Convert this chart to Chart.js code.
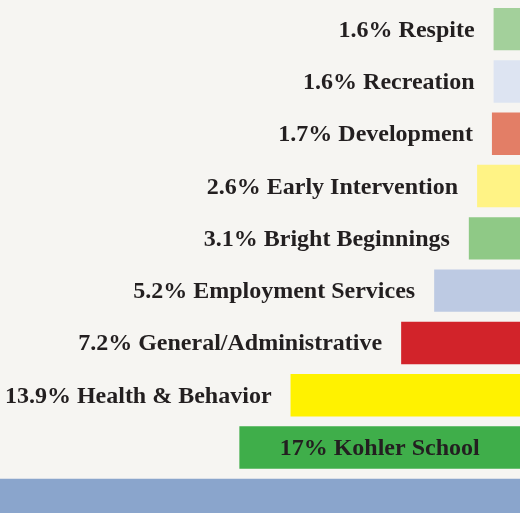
<!DOCTYPE html>
<html>
<head>
<meta charset="utf-8">
<script src="https://cdn.jsdelivr.net/npm/chart.js@4"></script>
<style>
  html, body { margin: 0; padding: 0; background: #f6f5f2; overflow: hidden; }
  #wrap { width: 520px; height: 513px; overflow: hidden; }
  #box { width: 520px; height: 526px; }
</style>
</head>
<body>
<div id="wrap"><div id="box"><canvas id="myChart"></canvas></div></div>
<script>
// budget share per program, in percent
const programs = ['Respite', 'Recreation', 'Development', 'Early Intervention', 'Bright Beginnings',
    'Employment Services', 'General/Administrative', 'Health & Behavior', 'Kohler School', ''];
const shares = [1.6, 1.6, 1.7, 2.6, 3.1, 5.2, 7.2, 13.9, 17, 40]; // last bar is cut off at the bottom
const shareText = ['1.6%', '1.6%', '1.7%', '2.6%', '3.1%', '5.2%', '7.2%', '13.9%', '17%', ''];
const barColors = ['#a3d09b', '#dde4f2', '#e37e66', '#fff385', '#8fc986',
    '#bdcae3', '#d2232a', '#fff200', '#3fae4a', '#8aa5cc'];
const insideIndex = 8;

const labelFont = 'bold 24px "Liberation Serif", serif';

const barLabels = {
    id: 'barLabels',
    afterDatasetsDraw(chart) {
        const ctx = chart.ctx;
        const meta = chart.getDatasetMeta(0);
        const x = chart.scales.x;
        ctx.save();
        ctx.font = labelFont;
        ctx.fillStyle = '#231f20';
        ctx.textBaseline = 'alphabetic';
        meta.data.forEach((bar, i) => {
            const text = shareText[i] ? shareText[i] + ' ' + programs[i] : '';
            if (!text) return;
            const left = x.getPixelForValue(shares[i]);
            const y = bar.y + 7.5;
            if (i === insideIndex) {
                ctx.textAlign = 'center';
                ctx.fillText(text, (left + x.getPixelForValue(0)) / 2, y);
            } else {
                ctx.textAlign = 'right';
                ctx.fillText(text, left - 19, y);
            }
        });
        ctx.restore();
    }
};

const ctx = document.getElementById('myChart').getContext('2d');
new Chart(ctx, {
    type: 'bar',
    data: {
        labels: programs,
        datasets: [{
            data: shares,
            backgroundColor: barColors,
            borderWidth: 0,
            barPercentage: 1,
            categoryPercentage: 0.81
        }]
    },
    options: {
        indexAxis: 'y',
        responsive: true,
        maintainAspectRatio: false,
        animation: false,
        layout: { padding: { top: 3, left: 0, right: 0, bottom: 0 } },
        plugins: {
            legend: { display: false },
            tooltip: { enabled: false }
        },
        scales: {
            x: {
                display: false,
                reverse: true,
                min: 0,
                max: 31.5
            },
            y: {
                display: false
            }
        }
    },
    plugins: [barLabels]
});
</script>
</body>
</html>
